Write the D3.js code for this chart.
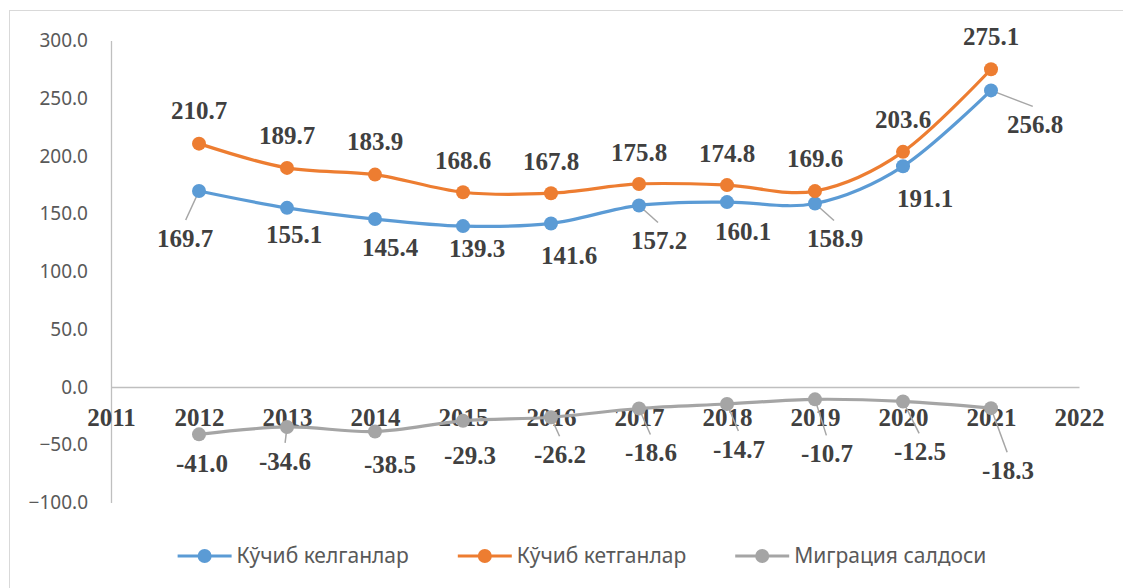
<!DOCTYPE html>
<html>
<head>
<meta charset="utf-8">
<script src="https://cdn.jsdelivr.net/npm/d3@7"></script>
<style>
  body { margin: 0; background: #fff; }
  svg { display: block; }
</style>
</head>
<body>
<div id="chart"></div>
<script>
// Data
var years = [2012, 2013, 2014, 2015, 2016, 2017, 2018, 2019, 2020, 2021];
var arrived = [169.7, 155.1, 145.4, 139.3, 141.6, 157.2, 160.1, 158.9, 191.1, 256.8];
var departed = [210.7, 189.7, 183.9, 168.6, 167.8, 175.8, 174.8, 169.6, 203.6, 275.1];
var balance = [-41.0, -34.6, -38.5, -29.3, -26.2, -18.6, -14.7, -10.7, -12.5, -18.3];
var seriesNames = ["Кўчиб келганлар", "Кўчиб кетганлар", "Миграция салдоси"];
var xTicks = [2011, 2012, 2013, 2014, 2015, 2016, 2017, 2018, 2019, 2020, 2021, 2022];
var yTicks = [-100, -50, 0, 50, 100, 150, 200, 250, 300];

// Label placement (pixel offsets from point) and leader line flags
var arrivedOffsets = [[-14, 47], [7, 26], [15, 28], [14, 22], [18, 32], [20, 35], [16, 29], [20, 35], [22, 32], [44, 34]];
var arrivedLeaders = [1, 0, 0, 0, 0, 1, 0, 1, 0, 1];
var departedOffsets = [[0, -33], [0, -33], [0, -33], [0, -32], [0, -32], [0, -32], [0, -32], [0, -33], [0, -33], [0, -33]];
var balanceOffsets = [[3, 29], [-2, 34], [15, 33], [7, 34], [9, 37], [12, 44], [12, 45], [12, 54], [17, 50], [17, 62]];
var balanceLeaders = [0, 1, 0, 0, 1, 1, 1, 1, 1, 1];

var colors = ["#5B9BD5", "#ED7D31", "#A5A5A5"];

var svgWidth = 1123;
var svgHeight = 588;

var svg = d3.select("#chart")
    .append("svg")
    .attr("width", svgWidth)
    .attr("height", svgHeight);

// chart area border
svg.append("rect")
    .attr("x", 9.5)
    .attr("y", 10.5)
    .attr("width", 1130)
    .attr("height", 600)
    .attr("fill", "none")
    .attr("stroke", "#D9D9D9");

var xScale = d3.scaleLinear().domain([2011, 2022]).range([111, 1079]);
var yScale = d3.scaleLinear().domain([-100, 300]).range([502.5, 40.5]);

// Y axis
var leftAxis = d3.axisLeft(yScale)
    .tickValues(yTicks)
    .tickSize(0)
    .tickPadding(23)
    .tickFormat(d3.format(".1f"));

var yAxisG = svg.append("g")
    .attr("transform", "translate(111,0)")
    .call(leftAxis);
yAxisG.select(".domain").attr("stroke", "#BFBFBF").attr("stroke-width", 1.3);
yAxisG.selectAll("text")
    .style("font-family", "'Noto Sans', sans-serif")
    .style("font-size", "19px")
    .attr("fill", "#595959");

// X axis at zero
var bottomAxis = d3.axisBottom(xScale)
    .tickValues(xTicks)
    .tickSize(0)
    .tickPadding(31)
    .tickFormat(d3.format("d"));

var xAxisG = svg.append("g")
    .attr("transform", "translate(0," + yScale(0) + ")")
    .call(bottomAxis);
xAxisG.select(".domain").attr("stroke", "#BFBFBF").attr("stroke-width", 1.3);
xAxisG.selectAll("text")
    .style("font-family", "'Liberation Serif', 'Times New Roman', serif")
    .style("font-size", "25px")
    .style("font-weight", "bold")
    .attr("fill", "#404040")
    .attr("dy", "0.3em");

var line = d3.line()
    .x(function(d) { return xScale(d.year); })
    .y(function(d) { return yScale(d.value); })
    .curve(d3.curveCardinal.tension(0));

function toPoints(values) {
    return years.map(function(y, i) { return { year: y, value: values[i] }; });
}

var series = [
    { values: arrived, offsets: arrivedOffsets, leaders: arrivedLeaders, color: colors[0] },
    { values: departed, offsets: departedOffsets, leaders: [0, 0, 0, 0, 0, 0, 0, 0, 0, 0], color: colors[1] },
    { values: balance, offsets: balanceOffsets, leaders: balanceLeaders, color: colors[2] }
];

var plot = svg.append("g");

// leader lines first, below markers
series.forEach(function(s) {
    var pts = toPoints(s.values);
    pts.forEach(function(p, i) {
        if (!s.leaders[i]) return;
        var px = xScale(p.year), py = yScale(p.value);
        var off = s.offsets[i];
        plot.append("line")
            .attr("x1", px)
            .attr("y1", py)
            .attr("x2", px + off[0] * 0.95)
            .attr("y2", py + off[1] - 18)
            .attr("stroke", "#A6A6A6")
            .attr("stroke-width", 1.5);
    });
});

series.forEach(function(s) {
    var pts = toPoints(s.values);
    plot.append("path")
        .datum(pts)
        .attr("d", line)
        .attr("fill", "none")
        .attr("stroke", s.color)
        .attr("stroke-width", 3.2)
        .attr("stroke-linecap", "round");

    plot.selectAll(null)
        .data(pts)
        .enter()
        .append("circle")
        .attr("cx", function(d) { return xScale(d.year); })
        .attr("cy", function(d) { return yScale(d.value); })
        .attr("r", 7)
        .attr("fill", s.color);
});

// data labels
series.forEach(function(s) {
    var pts = toPoints(s.values);
    plot.selectAll(null)
        .data(pts)
        .enter()
        .append("text")
        .attr("x", function(d, i) { return xScale(d.year) + s.offsets[i][0]; })
        .attr("y", function(d, i) { return yScale(d.value) + s.offsets[i][1]; })
        .attr("dy", "0.35em")
        .attr("text-anchor", "middle")
        .style("font-family", "'Liberation Serif', 'Times New Roman', serif")
        .style("font-size", "25px")
        .style("font-weight", "bold")
        .attr("fill", "#404040")
        .text(function(d) { return d.value.toFixed(1); });
});

// Legend
var legend = svg.append("g");
var lx = 0;
seriesNames.forEach(function(name, i) {
    var item = legend.append("g").attr("transform", "translate(" + lx + ",0)");
    item.append("line")
        .attr("x1", 0).attr("x2", 54)
        .attr("y1", 0).attr("y2", 0)
        .attr("stroke", colors[i])
        .attr("stroke-width", 3.2);
    item.append("circle")
        .attr("cx", 27).attr("cy", 0).attr("r", 7)
        .attr("fill", colors[i]);
    var t = item.append("text")
        .attr("x", 59)
        .attr("y", 0)
        .attr("dy", "0.35em")
        .style("font-family", "'Noto Sans', sans-serif")
        .style("font-size", "21px")
        .attr("fill", "#595959")
        .text(name);
    lx += 59 + t.node().getComputedTextLength() + 49;
});
var legendWidth = lx - 49;
legend.attr("transform", "translate(" + (582 - legendWidth / 2) + ",556)");
</script>
</body>
</html>
